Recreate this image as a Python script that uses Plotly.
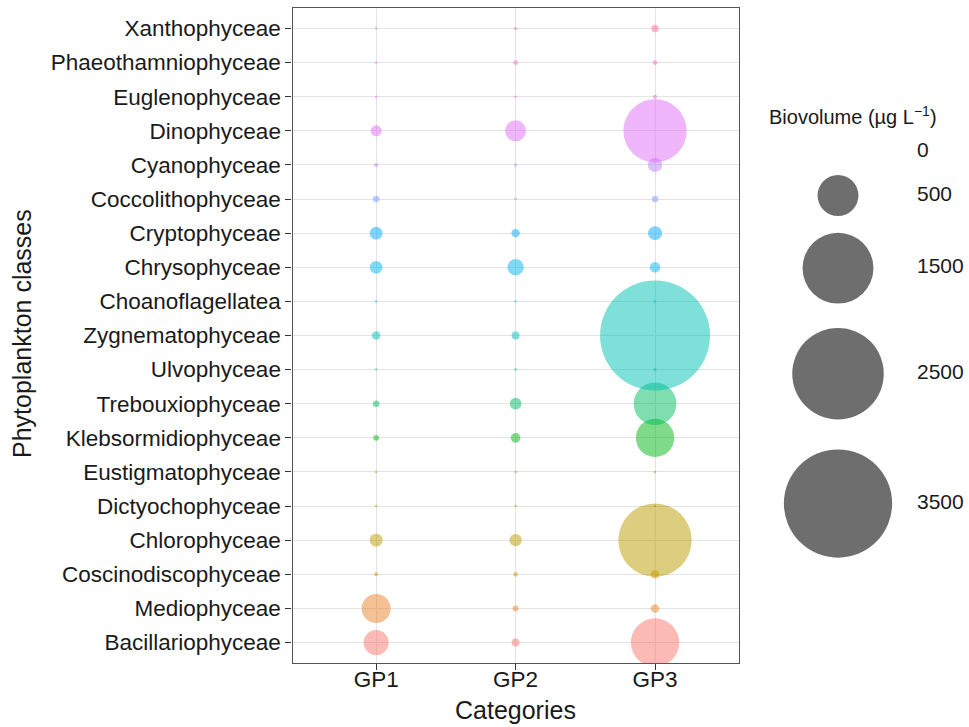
import math
import plotly.graph_objects as go

# ---------------- data ----------------
classes = ["Bacillariophyceae", "Mediophyceae", "Coscinodiscophyceae", "Chlorophyceae",
           "Dictyochophyceae", "Eustigmatophyceae", "Klebsormidiophyceae", "Trebouxiophyceae",
           "Ulvophyceae", "Zygnematophyceae", "Choanoflagellatea", "Chrysophyceae",
           "Cryptophyceae", "Coccolithophyceae", "Cyanophyceae", "Dinophyceae",
           "Euglenophyceae", "Phaeothamniophyceae", "Xanthophyceae"]
groups = ["GP1", "GP2", "GP3"]
gp1 = [187, 251, 5, 50, 1.5, 1.5, 10, 13, 1, 22, 1, 48, 48, 13, 5, 36, 1, 1, 0.5]
gp2 = [19, 11, 6.5, 45, 2, 2, 28, 41, 2, 19, 1, 80, 21, 2, 3, 132, 1, 6.5, 3]
gp3 = [697, 22, 22, 1605, 1, 2, 439, 544, 3, 3613, 2, 32, 58, 13, 61, 1197, 5, 6.5, 16]
legend_breaks = [0, 500, 1500, 2500, 3500]

# ---------------- styling helpers ----------------
W, H = 969, 727
K = 1.83                     # target diameter(px) = K * sqrt(value)
SIZEREF = 2 / (K ** 2)       # plotly area mode scaling
ALPHA = 0.5


def hcl_hex(h, c=100.0, l=65.0):
    hr = math.radians(h)
    u, v = c * math.cos(hr), c * math.sin(hr)
    Xn, Yn, Zn = 95.047, 100.0, 108.883
    Y = Yn * ((l + 16) / 116) ** 3
    un = 4 * Xn / (Xn + 15 * Yn + 3 * Zn)
    vn = 9 * Yn / (Xn + 15 * Yn + 3 * Zn)
    up = u / (13 * l) + un
    vp = v / (13 * l) + vn
    X = Y * 9 * up / (4 * vp)
    Z = Y * (12 - 3 * up - 20 * vp) / (4 * vp)
    X, Y, Z = X / 100, Y / 100, Z / 100
    r = 3.2404542 * X - 1.5371385 * Y - 0.4985314 * Z
    g = -0.9692660 * X + 1.8760108 * Y + 0.0415560 * Z
    b = 0.0556434 * X - 0.2040259 * Y + 1.0572252 * Z

    def gam(t):
        t = 12.92 * t if t <= 0.0031308 else 1.055 * t ** (1 / 2.4) - 0.055
        return int(round(min(max(t, 0), 1) * 255))
    return gam(r), gam(g), gam(b)


n = len(classes)
hues = [15 + 360 * i / n for i in range(n)]
cols = [hcl_hex(h) for h in hues]

fig = go.Figure()
for i, cls in enumerate(classes):
    r, g, b = cols[i]
    fig.add_trace(go.Scatter(
        x=groups, y=[cls] * 3, mode="markers",
        marker=dict(size=[gp1[i], gp2[i], gp3[i]], sizemode="area", sizeref=SIZEREF,
                    sizemin=1.2, opacity=1, color=f"rgba({r},{g},{b},{ALPHA})",
                    line=dict(width=0)),
        showlegend=False, hoverinfo="skip", xaxis="x", yaxis="y"))

# ---------------- size legend (pixel-space subplot) ----------------
top = 134.6
ys = []
cur = top
for v in legend_breaks:
    d = K * math.sqrt(v)
    h = max(34.3, 1.3 * d)
    ys.append(cur + h / 2)
    cur += h
fig.add_trace(go.Scatter(
    x=[838] * len(legend_breaks), y=ys, mode="markers",
    marker=dict(size=legend_breaks, sizemode="area", sizeref=SIZEREF, sizemin=1,
                opacity=1, color="rgb(110,110,110)", line=dict(width=0)),
    showlegend=False, hoverinfo="skip", xaxis="x2", yaxis="y2"))
fig.add_trace(go.Scatter(
    x=[917] * len(legend_breaks), y=ys, mode="text", text=[str(v) for v in legend_breaks],
    textposition="middle right",
    textfont=dict(family="Liberation Sans, Arial", size=21, color="#1a1a1a"),
    showlegend=False, hoverinfo="skip", xaxis="x2", yaxis="y2"))

x0, x1 = 292.5, 738.7
y0, y1 = 8, 663
axis_font = dict(family="Liberation Sans, Arial", size=22.5, color="#1a1a1a")
fig.update_layout(
    width=W, height=H, margin=dict(l=0, r=0, t=0, b=0),
    paper_bgcolor="white", plot_bgcolor="rgba(0,0,0,0)",
    font=dict(family="Liberation Sans, Arial", color="#1a1a1a"),
    xaxis=dict(domain=[x0 / W, x1 / W], type="category", categoryorder="array",
               categoryarray=groups, range=[-0.6, 2.6], showgrid=True,
               gridcolor="#e3e3e3", gridwidth=1, showline=True, mirror=True,
               linecolor="#555555", linewidth=1.2, ticks="outside", ticklen=6,
               tickcolor="#333333", tickwidth=1.2, tickfont=axis_font, zeroline=False,
               ticklabelstandoff=-10, anchor="y", fixedrange=True),
    yaxis=dict(domain=[1 - y1 / H, 1 - y0 / H], type="category", categoryorder="array",
               categoryarray=classes, range=[-0.6, n - 0.4], showgrid=True,
               gridcolor="#e3e3e3", gridwidth=1, showline=True, mirror=True,
               linecolor="#555555", linewidth=1.2, ticks="outside", ticklen=6,
               tickcolor="#333333", tickwidth=1.2, tickfont=axis_font, zeroline=False,
               anchor="x", fixedrange=True),
    xaxis2=dict(domain=[0, 1], range=[0, W], visible=False, anchor="y2", fixedrange=True),
    yaxis2=dict(domain=[0, 1], range=[H, 0], visible=False, anchor="x2", fixedrange=True),
    annotations=[
        dict(text="Categories", xref="paper", yref="paper", x=515 / W, y=1 - 710 / H,
             xanchor="center", yanchor="middle", showarrow=False,
             font=dict(family="Liberation Sans, Arial", size=25, color="#1a1a1a")),
        dict(text="Phytoplankton classes", xref="paper", yref="paper", x=22 / W,
             y=1 - 334 / H, xanchor="center", yanchor="middle", textangle=-90,
             showarrow=False,
             font=dict(family="Liberation Sans, Arial", size=25, color="#1a1a1a")),
        dict(text="Biovolume (µg L<sup>−1</sup>)", xref="paper", yref="paper",
             x=767 / W, y=1 - 116 / H, xanchor="left", yanchor="middle", showarrow=False,
             font=dict(family="Liberation Sans, Arial", size=20, color="#1a1a1a")),
    ],
)

fig.write_html("out.html")
